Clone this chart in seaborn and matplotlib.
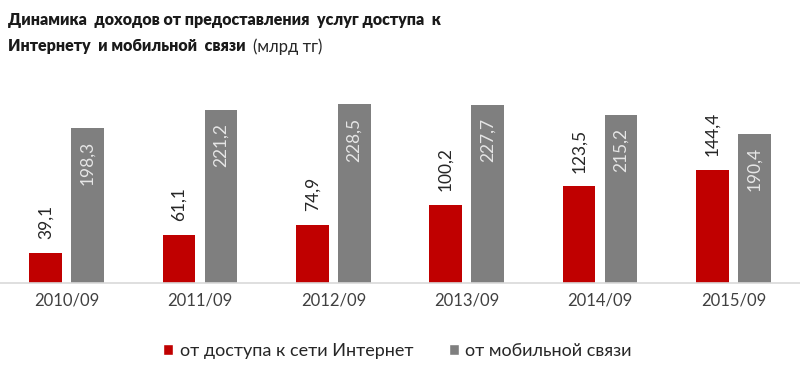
import matplotlib
matplotlib.use("Agg")
import matplotlib.pyplot as plt
import seaborn as sns
import pandas as pd

categories = ["2010/09", "2011/09", "2012/09", "2013/09", "2014/09", "2015/09"]
internet = [39.1, 61.1, 74.9, 100.2, 123.5, 144.4]
mobile = [198.3, 221.2, 228.5, 227.7, 215.2, 190.4]
series_names = ["от доступа к сети Интернет", "от мобильной связи"]
colors = ["#C00000", "#7F7F7F"]

sns.set_theme(style="white")
plt.rcParams["font.family"] = ["Lato", "DejaVu Sans"]

df = pd.DataFrame({
    "cat": categories * 2,
    "val": internet + mobile,
    "series": [series_names[0]] * 6 + [series_names[1]] * 6,
})

fig = plt.figure(figsize=(8, 3.72), dpi=100)
ax = fig.add_axes([0.0, 0.239, 1.0, 0.532])
sns.barplot(data=df, x="cat", y="val", hue="series", palette=colors,
            width=0.63, ax=ax, legend=True, saturation=1)

bw = 0.247
for cont, is_gray in zip(ax.containers, [False, True]):
    for p in cont.patches:
        c = p.get_x() + p.get_width() / 2
        p.set_width(bw)
        p.set_x(c - bw / 2)
        p.set_edgecolor("none")
        v = p.get_height()
        lab = f"{v:.1f}".replace(".", ",")
        if is_gray:
            ax.annotate(lab, (c, v), xytext=(0, -9.5), textcoords="offset points",
                        rotation=90, ha="center", va="top", fontsize=12.5,
                        color="#E6E6E6")
        else:
            ax.annotate(lab, (c, v), xytext=(0, 10), textcoords="offset points",
                        rotation=90, ha="center", va="bottom", fontsize=12.5,
                        color="#262626")

ax.set_ylim(0, 253)
ax.set_xlim(-0.5, 5.5)
ax.set_xlabel("")
ax.set_ylabel("")
ax.set_yticks([])
for s in ["top", "left", "right"]:
    ax.spines[s].set_visible(False)
ax.spines["bottom"].set_color("#D9D9D9")
ax.spines["bottom"].set_linewidth(1.2)
ax.tick_params(axis="x", length=0, pad=7, labelsize=12, labelcolor="#404040")

handles, labels = ax.get_legend_handles_labels()
ax.legend(handles, labels, loc="center", bbox_to_anchor=(0.497, 0.057),
          bbox_transform=fig.transFigure, ncol=2, frameon=False,
          fontsize=13, handlelength=0.55, handleheight=0.55,
          handletextpad=0.35, columnspacing=2.0, labelcolor="#262626")

t1 = fig.text(0.01, 0.945, "Динамика  доходов от предоставления  услуг доступа  к",
              fontsize=11.5, fontweight="heavy", color="#1A1A1A", va="center")
t2 = fig.text(0.01, 0.875, "Интернету  и мобильной  связи ",
              fontsize=11.5, fontweight="heavy", color="#1A1A1A", va="center")
fig.canvas.draw()
bb = t2.get_window_extent()
x2 = fig.transFigure.inverted().transform((bb.x1, bb.y0))[0]
fig.text(x2 + 0.004, 0.875, "(млрд тг)", fontsize=12, color="#262626", va="center")

fig.savefig("out.png", dpi=100, facecolor="white")
